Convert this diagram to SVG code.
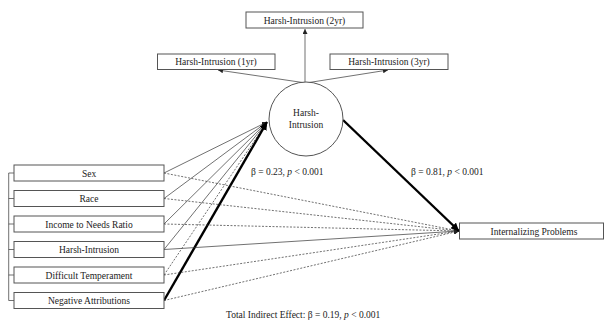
<svg xmlns="http://www.w3.org/2000/svg" width="604" height="320" viewBox="0 0 604 320">
<defs>
<style>
text{font-family:"Liberation Serif","Times New Roman",serif;font-size:9.5px;fill:#222;text-anchor:middle}
.box{fill:#fff;stroke:#555;stroke-width:1}
.thin{stroke:#333;stroke-width:0.7;fill:none}
.dash{stroke:#333;stroke-width:0.7;stroke-dasharray:2,1.5;fill:none}
.thick{stroke:#000;stroke-width:2.4;fill:none}
.lab{text-anchor:start}
</style>
<marker id="ah" viewBox="0 0 10 10" refX="10" refY="5" markerWidth="5" markerHeight="5" markerUnits="userSpaceOnUse" orient="auto"><path d="M0,0L10,5L0,10z" fill="#222"/></marker>
<marker id="ahb" viewBox="0 0 10 10" refX="10" refY="5" markerWidth="8" markerHeight="8" markerUnits="userSpaceOnUse" orient="auto"><path d="M0,0L10,5L0,10z" fill="#000"/></marker>
</defs>
<rect width="604" height="320" fill="#fff"/>
<g id="connectors">
<line class="thin" x1="305" y1="82" x2="305" y2="29" marker-end="url(#ah)"/>
<line class="thin" x1="306" y1="83" x2="218" y2="70" marker-end="url(#ah)"/>
<line class="thin" x1="306" y1="83" x2="388" y2="70" marker-end="url(#ah)"/>
<line class="thin" x1="164" y1="173" x2="267" y2="122" marker-end="url(#ah)"/>
<line class="thin" x1="164" y1="198.5" x2="267" y2="122" marker-end="url(#ah)"/>
<line class="thin" x1="164" y1="224" x2="267" y2="122" marker-end="url(#ah)"/>
<line class="thin" x1="164" y1="249.5" x2="267" y2="122" marker-end="url(#ah)"/>
<line class="dash" x1="164" y1="275" x2="267" y2="122" marker-end="url(#ah)"/>
<line class="thick" x1="164" y1="300.5" x2="267" y2="122" marker-end="url(#ahb)"/>
<line class="dash" x1="164" y1="173" x2="459" y2="231" marker-end="url(#ah)"/>
<line class="dash" x1="164" y1="198.5" x2="459" y2="231" marker-end="url(#ah)"/>
<line class="dash" x1="164" y1="224" x2="459" y2="231" marker-end="url(#ah)"/>
<line class="thin" x1="164" y1="249.5" x2="459" y2="231" marker-end="url(#ah)"/>
<line class="dash" x1="164" y1="275" x2="459" y2="231" marker-end="url(#ah)"/>
<line class="dash" x1="164" y1="300.5" x2="459" y2="231" marker-end="url(#ah)"/>
<line class="thick" x1="343" y1="120" x2="459" y2="231" marker-end="url(#ahb)"/>
<path class="thin" d="M14,173H8.7V300.5H14M8.7,198.5H14M8.7,224H14M8.7,249.5H14M8.7,275H14"/>
<line class="thin" x1="17" y1="180.5" x2="22" y2="180.5"/>
</g>
<g id="n-hi2"><rect class="box" x="246" y="12" width="117" height="16"/><text x="304.5" y="23.5">Harsh-Intrusion  (2yr)</text></g>
<g id="n-hi1"><rect class="box" x="157.5" y="54" width="117.5" height="15.5"/><text x="216" y="65.3">Harsh-Intrusion  (1yr)</text></g>
<g id="n-hi3"><rect class="box" x="330" y="54" width="118" height="15.5"/><text x="389" y="65.3">Harsh-Intrusion  (3yr)</text></g>
<g id="n-latent"><circle class="box" cx="306" cy="119" r="37"/><text x="306" y="116">Harsh-</text><text x="306" y="127.5">Intrusion</text></g>
<g id="n-sex"><rect class="box" x="14" y="165" width="150" height="16"/><text x="89" y="176.5">Sex</text></g>
<g id="n-race"><rect class="box" x="14" y="190.5" width="150" height="16"/><text x="89" y="202">Race</text></g>
<g id="n-inr"><rect class="box" x="14" y="216" width="150" height="16"/><text x="89" y="227.5">Income to Needs Ratio</text></g>
<g id="n-hi"><rect class="box" x="14" y="241.5" width="150" height="16"/><text x="89" y="253">Harsh-Intrusion</text></g>
<g id="n-dt"><rect class="box" x="14" y="267" width="150" height="16"/><text x="89" y="278.5">Difficult Temperament</text></g>
<g id="n-na"><rect class="box" x="14" y="292.5" width="150" height="16"/><text x="89" y="304">Negative Attributions</text></g>
<g id="n-ip"><rect class="box" x="459.5" y="223" width="144" height="16"/><text x="534" y="234.5">Internalizing  Problems</text></g>
<g id="labels">
<text class="lab" x="251" y="174.5">β = 0.23, <tspan font-style="italic">p</tspan> &lt; 0.001</text>
<text class="lab" x="411" y="174.5">β = 0.81, <tspan font-style="italic">p</tspan> &lt; 0.001</text>
<text class="lab" x="226" y="317.5">Total Indirect Effect: β = 0.19, <tspan font-style="italic">p</tspan> &lt; 0.001</text>
</g>
</svg>
